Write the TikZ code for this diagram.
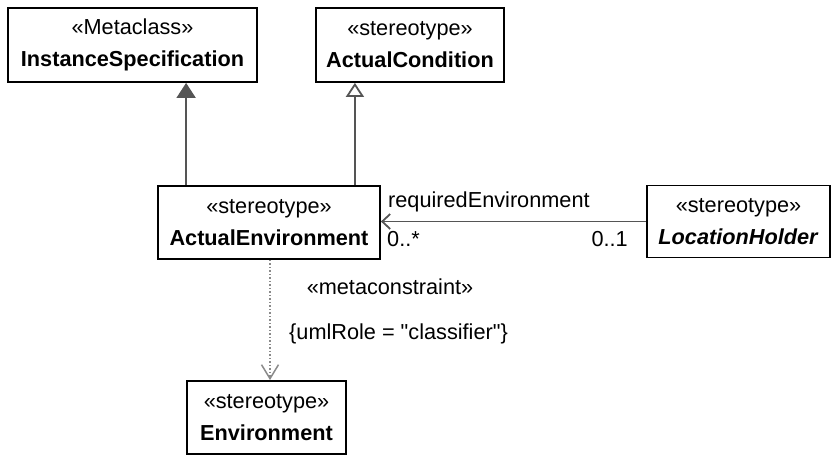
\documentclass[tikz,border=0pt]{standalone}
\usepackage{fontspec}
\setmainfont{Liberation Sans}[Ligatures=TeXOff]
\usetikzlibrary{arrows.meta}
\definecolor{lnk}{HTML}{555555}
\definecolor{dep}{HTML}{8A8A8A}
\tikzset{
  cls/.style={draw=black, line width=1.8pt, fill=white, align=center, inner sep=0pt,
    font=\fontsize{21.7}{32}\selectfont},
  lbl/.style={font=\fontsize{21.7}{26}\selectfont, inner sep=0pt},
  gen/.style={draw=lnk, line width=1.8pt},
}
\begin{document}
\begin{tikzpicture}[x=1pt,y=-1pt]
\useasboundingbox (0,0) rectangle (835,456);
\node[cls, minimum width=249pt, minimum height=74pt] (is) at (132.5,45) {«Metaclass»\\\textbf{InstanceSpecification}};
\node[cls, minimum width=188pt, minimum height=74pt] (ac) at (410,45) {«stereotype»\\\textbf{ActualCondition}};
\node[cls, minimum width=222pt, minimum height=73pt] (ae) at (269,222.5) {«stereotype»\\\textbf{ActualEnvironment}};
\node[cls, minimum width=183pt, minimum height=72pt] (lh) at (738.5,221.5) {«stereotype»\\\textbf{\itshape LocationHolder}};
\node[cls, minimum width=159pt, minimum height=73pt] (env) at (266.5,417.5) {«stereotype»\\\textbf{Environment}};
% generalizations
\draw[gen, -{Triangle[width=19pt,length=15pt,fill=lnk]}] (ae.south west |- ae.north) ++(29,0) coordinate (g1) -- (g1 |- is.south);
\draw[gen, -{Triangle[open,width=18pt,length=14pt,fill=white]}] (ae.north east) ++(-26,0) coordinate (g2) -- (g2 |- ac.south);
% association
\draw[gen, -{Straight Barb[length=8pt,width=15pt,line width=1.8pt]}] (lh.west) -- (ae.east |- lh.west) coordinate (a1);
\node[lbl, anchor=base west] (rn) at (388,207) {requiredEnvironment};
\node[lbl, anchor=base west] (m1) at (387,246) {0..*};
\node[lbl, anchor=base east] (m2) at (628,246) {0..1};
% dependency
\draw[draw=dep, line width=1.5pt, dotted, -{Straight Barb[length=14pt,width=17pt,line width=1.5pt,sep=0pt]}] (270,0 |- ae.south) coordinate (d1) -- (d1 |- env.north);
\node[lbl, anchor=base] (mc) at (390,294) {«metaconstraint»};
\node[lbl, anchor=base west] (ur) at (289,339) {\{umlRole = "classifier"\}};
\end{tikzpicture}
\end{document}
